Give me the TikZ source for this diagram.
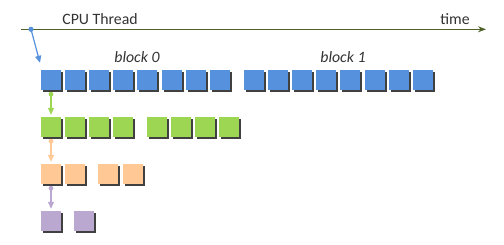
\documentclass[tikz,border=0pt]{standalone}
\usepackage{fontspec}
\setmainfont{Carlito}
\usetikzlibrary{arrows.meta, positioning, calc, shadows}
\definecolor{cblue}{HTML}{5591DC}
\definecolor{cgreen}{HTML}{9CD653}
\definecolor{corange}{HTML}{FFC894}
\definecolor{cpurple}{HTML}{BBA8D0}
\definecolor{cshadow}{HTML}{404040}
\definecolor{cline}{HTML}{4F6228}
\definecolor{ctext}{HTML}{333333}
\tikzset{
    cell/.style={minimum size=20pt, inner sep=0pt,
        drop shadow={shadow xshift=2pt, shadow yshift=-2pt, fill=cshadow, opacity=1}},
    timeline/.style={-{Stealth[length=8pt, width=6pt]}, line width=0.9pt, cline},
    flow/.style={-{Triangle[length=7pt, width=6pt]}, line width=1.2pt},
    lbl/.style={font=\fontsize{15.8}{18}\selectfont, text=ctext, anchor=base, inner sep=0pt},
    blk/.style={font=\fontsize{15.8}{18}\selectfont\itshape, text=ctext, anchor=base, inner sep=0pt},
}
\begin{document}
\begin{tikzpicture}[x=1pt, y=-1pt]
    \useasboundingbox (0,0) rectangle (504,245);

    % Zeitachse
    \coordinate (t0) at (21,29.3);
    \coordinate (t1) at (486,29.3);
    \coordinate (tstart) at (31,29.3);
    \draw[timeline] (t0) -- (t1);
    \node[lbl] (cpu) at (100,24.5) {CPU Thread};
    \node[lbl] (time) at (455,24.5) {time};

    % Bloecke
    \foreach \i in {0,...,7} {
        \node[cell, fill=cblue] (ba-\i) at ({51+24.1*\i},80) {};
        \node[cell, fill=cblue] (bb-\i) at ({254+24.1*\i},80) {};
    }
    \node[blk] (blk0) at (137,63) {block 0};
    \node[blk] (blk1) at (343,63) {block 1};

    \foreach \i in {0,...,3} {
        \node[cell, fill=cgreen] (ga-\i) at ({51+24.1*\i},127) {};
        \node[cell, fill=cgreen] (gb-\i) at ({157+24.1*\i},127) {};
    }

    \foreach \i in {0,1} {
        \node[cell, fill=corange] (oa-\i) at ({51+24.1*\i},174) {};
        \node[cell, fill=corange] (ob-\i) at ({108+24.6*\i},174) {};
    }

    \node[cell, fill=cpurple] (pa-0) at (51,221) {};
    \node[cell, fill=cpurple] (pb-0) at (84,221) {};

    % Pfeile
    \fill[cblue] (tstart) circle (2.6pt);
    \draw[flow, cblue] (tstart) -- ([xshift=-11pt, yshift=7pt]ba-0.north);

    \fill[cgreen] ([yshift=-4pt]ba-0.south) circle (2.4pt);
    \draw[flow, cgreen] ([yshift=-4pt]ba-0.south) -- ([yshift=2pt]ga-0.north);

    \fill[corange] ([yshift=-4pt]ga-0.south) circle (2.4pt);
    \draw[flow, corange] ([yshift=-4pt]ga-0.south) -- ([yshift=2pt]oa-0.north);

    \fill[cpurple] ([yshift=-4pt]oa-0.south) circle (2.4pt);
    \draw[flow, cpurple] ([yshift=-4pt]oa-0.south) -- ([yshift=2pt]pa-0.north);
\end{tikzpicture}
\end{document}
